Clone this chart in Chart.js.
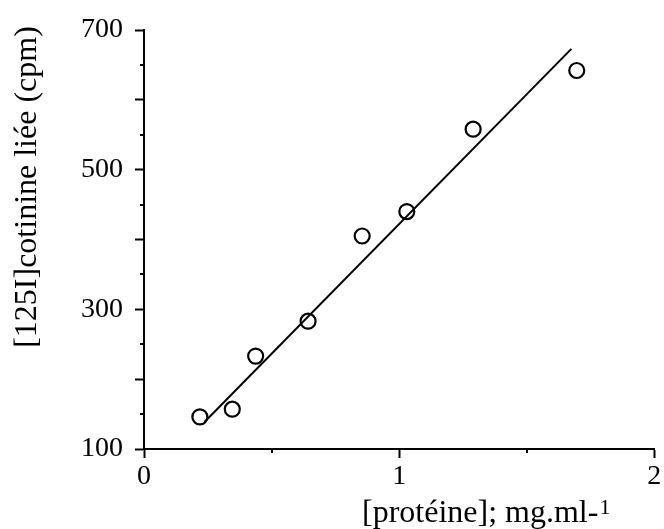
<!DOCTYPE html>
<html>
<head>
<meta charset="utf-8">
<script src="https://cdn.jsdelivr.net/npm/chart.js@4"></script>
<style>
  html, body { margin: 0; padding: 0; background: #fff; }
  #wrap { width: 664px; height: 529px; position: relative; }
</style>
</head>
<body>
<div id="wrap"><canvas id="c"></canvas></div>
<script>
// ---- data ----
const proteinX = [0.219, 0.346, 0.4375, 0.643, 0.855, 1.030, 1.290, 1.696];
const boundCpm = [146, 157, 233, 283, 405, 440, 558, 642];
const fitX = [0.238, 1.675];
const fitY = [139, 673];
const yLabelValues = [100, 300, 500, 700];
const yMinorTicks = [150, 250, 350, 450, 550, 650];
const xMinorTicks = [0.5, 1.5];
const xTitleMain = "[protéine]; mg.ml-";
const xTitleSup = "1";
const yTitle = "[125I]cotinine liée (cpm)";

const FONT = "'Liberation Serif', 'Times New Roman', serif";

const points = proteinX.map((x, i) => ({ x: x, y: boundCpm[i] }));
const fitLine = fitX.map((x, i) => ({ x: x, y: fitY[i] }));

const extras = {
  id: 'extras',
  afterDraw(chart) {
    const ctx = chart.ctx;
    const xs = chart.scales.x, ys = chart.scales.y;
    const area = chart.chartArea;
    ctx.save();
    ctx.strokeStyle = '#000';
    ctx.lineWidth = 2;
    // minor ticks
    yMinorTicks.forEach(v => {
      const p = Math.round(ys.getPixelForValue(v));
      ctx.beginPath();
      ctx.moveTo(area.left - 4, p);
      ctx.lineTo(area.left, p);
      ctx.stroke();
    });
    xMinorTicks.forEach(v => {
      const p = Math.round(xs.getPixelForValue(v));
      ctx.beginPath();
      ctx.moveTo(p, area.bottom);
      ctx.lineTo(p, area.bottom + 4);
      ctx.stroke();
    });
    // titles
    ctx.fillStyle = '#000';
    ctx.font = '32px ' + FONT;
    ctx.textBaseline = 'alphabetic';
    ctx.textAlign = 'left';
    const x0 = 362, base = 522;
    ctx.fillText(xTitleMain, x0, base);
    const w = ctx.measureText(xTitleMain).width;
    ctx.font = '22px ' + FONT;
    ctx.fillText(xTitleSup, x0 + w + 1, base - 8);
    ctx.font = '32px ' + FONT;
    ctx.translate(36, 187);
    ctx.rotate(-Math.PI / 2);
    ctx.textAlign = 'center';
    ctx.fillText(yTitle, 0, 0);
    ctx.restore();
  }
};

new Chart(document.getElementById('c'), {
  type: 'scatter',
  data: {
    datasets: [
      {
        label: 'points',
        data: points,
        pointStyle: 'circle',
        pointRadius: 7.5,
        pointHoverRadius: 7.5,
        borderColor: '#000',
        backgroundColor: 'rgba(0,0,0,0)',
        pointBorderWidth: 2.2,
        borderWidth: 2.2
      },
      {
        type: 'line',
        label: 'fit',
        data: fitLine,
        showLine: true,
        pointRadius: 0,
        borderColor: '#000',
        borderWidth: 2,
        fill: false
      }
    ]
  },
  options: {
    responsive: true,
    maintainAspectRatio: false,
    animation: false,
    events: [],
    layout: { padding: { left: 0, right: 8, top: 30, bottom: 0 } },
    plugins: { legend: { display: false }, tooltip: { enabled: false } },
    scales: {
      x: {
        type: 'linear',
        min: 0, max: 2,
        afterFit(s) { s.height = 80; s.paddingLeft = 0; s.paddingRight = 0; },
        ticks: {
          stepSize: 1,
          color: '#000',
          padding: 2,
          font: { family: FONT, size: 28 },
          callback: v => String(v)
        },
        grid: { drawOnChartArea: false, tickLength: 9, tickWidth: 2, tickColor: '#000' },
        border: { display: true, color: '#000', width: 2 },
        title: { display: false }
      },
      y: {
        type: 'linear',
        min: 100, max: 700,
        afterFit(s) { s.width = 144; s.paddingTop = 0; s.paddingBottom = 0; },
        ticks: {
          stepSize: 100,
          color: '#000',
          padding: 12,
          font: { family: FONT, size: 28 },
          callback: v => yLabelValues.includes(v) ? String(v) : ''
        },
        grid: { drawOnChartArea: false, tickLength: 9, tickWidth: 2, tickColor: '#000' },
        border: { display: true, color: '#000', width: 2 },
        title: { display: false }
      }
    }
  },
  plugins: [extras]
});
</script>
</body>
</html>
